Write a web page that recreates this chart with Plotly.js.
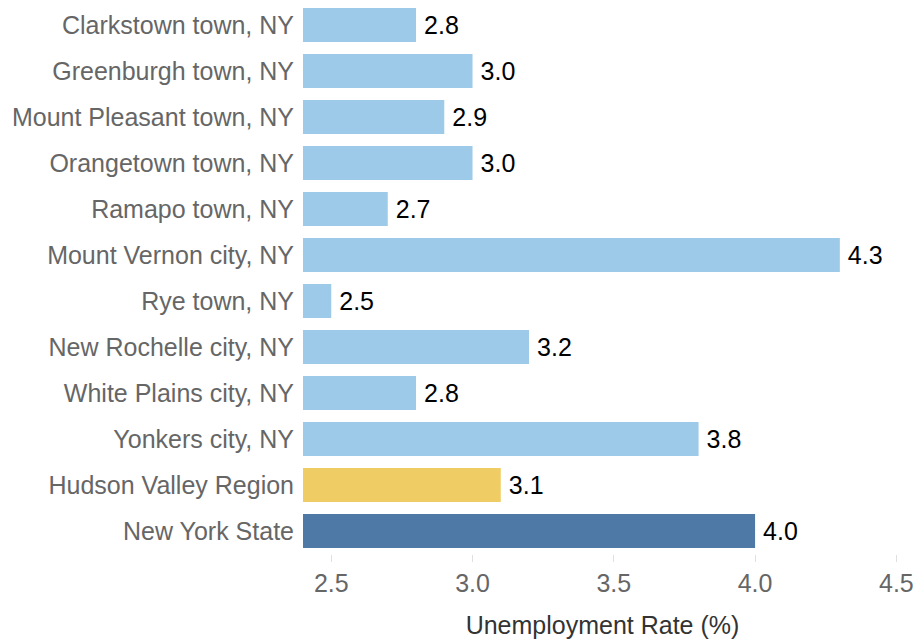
<!DOCTYPE html>
<html>
<head>
<meta charset="utf-8">
<script src="https://cdn.plot.ly/plotly-3.0.1.min.js"></script>
<style>html,body{margin:0;padding:0;background:#fff;}#chart{width:914px;height:642px;}</style>
</head>
<body>
<div id="chart"></div>
<script>
const categories = [
  "Clarkstown town, NY",
  "Greenburgh town, NY",
  "Mount Pleasant town, NY",
  "Orangetown town, NY",
  "Ramapo town, NY",
  "Mount Vernon city, NY",
  "Rye town, NY",
  "New Rochelle city, NY",
  "White Plains city, NY",
  "Yonkers city, NY",
  "Hudson Valley Region",
  "New York State"
];
const rates = [2.8, 3.0, 2.9, 3.0, 2.7, 4.3, 2.5, 3.2, 2.8, 3.8, 3.1, 4.0];
const barColors = ["#9ecae9","#9ecae9","#9ecae9","#9ecae9","#9ecae9","#9ecae9","#9ecae9","#9ecae9","#9ecae9","#9ecae9","#f0cd64","#4e79a7"];
const xTickVals = [2.5, 3.0, 3.5, 4.0, 4.5];
const xTickText = ["2.5", "3.0", "3.5", "4.0", "4.5"];
const xTitle = "Unemployment Rate (%)";

const FONT = "Liberation Sans, Arial, sans-serif";

Plotly.newPlot("chart", [{
  type: "bar",
  orientation: "h",
  y: categories,
  x: rates,
  base: 0,
  marker: {color: barColors},
  text: rates.map(v => "\u2009" + v.toFixed(1)),
  textposition: "outside",
  textfont: {family: FONT, size: 25, color: "#000"},
  cliponaxis: false,
  hoverinfo: "none"
}], {
  width: 914,
  height: 642,
  margin: {l: 303, r: 12, t: 2, b: 88},
  paper_bgcolor: "#fff",
  plot_bgcolor: "#fff",
  bargap: 0.26,
  showlegend: false,
  font: {family: FONT},
  xaxis: {
    range: [2.4, 4.52],
    tickvals: xTickVals,
    ticktext: xTickText,
    showgrid: false,
    zeroline: false,
    showline: false,
    ticks: "outside",
    ticklen: 7,
    tickcolor: "#e0e0e0",
    tickfont: {family: FONT, size: 25, color: "#666"},
    title: {text: xTitle, font: {family: FONT, size: 25, color: "#333"}, standoff: 20}
  },
  yaxis: {
    autorange: "reversed",
    showgrid: false,
    zeroline: false,
    showline: false,
    ticks: "",
    ticklabelstandoff: 8,
    tickfont: {family: FONT, size: 25, color: "#666"}
  }
}, {displayModeBar: false, staticPlot: true});
</script>
</body>
</html>
